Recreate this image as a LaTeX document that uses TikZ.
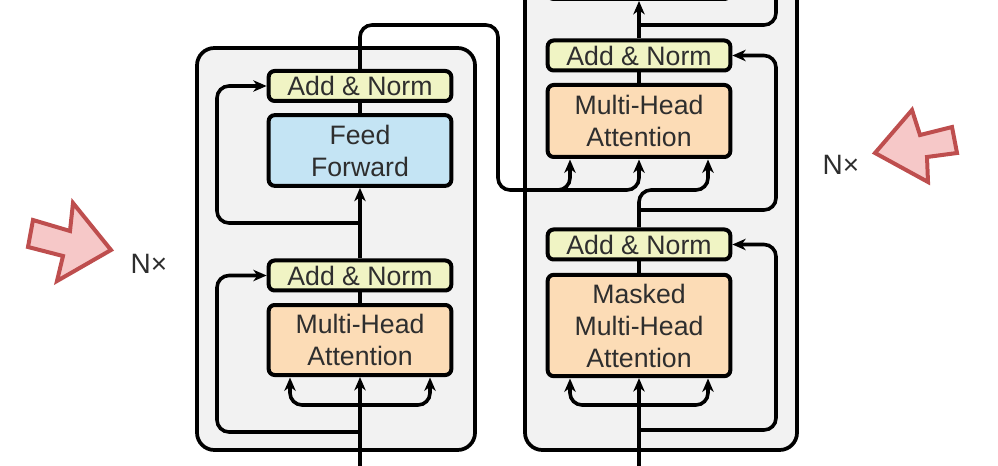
\documentclass[tikz,border=0pt]{standalone}
\usepackage{fontspec}
\newfontfamily\figfont{Liberation Sans}
\usetikzlibrary{arrows.meta}
\definecolor{anfill}{HTML}{F0F4C4}
\definecolor{fffill}{HTML}{C4E4F4}
\definecolor{mhafill}{HTML}{FCDCB6}
\definecolor{blockfill}{HTML}{F2F2F2}
\definecolor{txt}{HTML}{2E2E2E}
\definecolor{redfill}{HTML}{F6C8C8}
\definecolor{redline}{HTML}{BE4E4E}
\tikzset{
  box/.style={draw=black, line width=3pt, rounded corners=4.5pt, minimum width=137pt,
    inner sep=0pt, align=center, text=txt, font=\figfont\fontsize{20}{24}\selectfont},
  anbox/.style={box, fill=anfill, minimum height=22.5pt},
  ffbox/.style={box, fill=fffill, minimum height=53pt},
  mhabox/.style={box, fill=mhafill},
  block/.style={draw=black, line width=2.8pt, fill=blockfill, rounded corners=13pt},
  conn/.style={draw=black, line width=2.7pt, rounded corners=9pt},
  arr/.style={conn, -{Stealth[length=10pt,width=8.5pt,inset=3pt]}},
  bigarrow/.style={draw=redline, fill=redfill, line width=3pt, line join=miter},
  nlabel/.style={text=txt, font=\figfont\fontsize{21}{24}\selectfont, inner sep=0pt}
}
\begin{document}
\begin{tikzpicture}[x=0.75pt,y=-0.75pt]
\useasboundingbox (0,0) rectangle (998,466);
\clip (0,0) rectangle (998,466);
% blocks
\draw[block] (197,48) rectangle (475,450);
\draw[block] (525,-40) rectangle (797,450);
% encoder nodes
\node[mhabox, minimum height=52.5pt] (encMHA) at (360,340) {Multi-Head\\Attention};
\node[anbox] (encAN1) at (360,275.5) {Add \& Norm};
\node[ffbox] (encFF) at (360,150.5) {Feed\\Forward};
\node[anbox] (encAN2) at (360,86) {Add \& Norm};
% decoder nodes
\node[mhabox, minimum height=76pt] (decMMHA) at (639,325.5) {Masked\\Multi-Head\\Attention};
\node[anbox] (decAN1) at (639,244.5) {Add \& Norm};
\node[mhabox, minimum height=54pt] (decMHA) at (639,121) {Multi-Head\\Attention};
\node[anbox] (decAN2) at (639,55.5) {Add \& Norm};
\node[box, fill=fffill, minimum height=30pt, anchor=south] (decTop) at (639,1) {};
% coordinates
\coordinate (encIn) at (360,466);
\coordinate (encBr) at (360,405);
\coordinate (encR1) at (360,432);
\coordinate (encR2) at (360,223);
\coordinate (encUp) at (360,25);
\coordinate (decIn) at (639,466);
\coordinate (decBr) at (639,405);
\coordinate (decR1) at (639,430);
\coordinate (decR2) at (639,210);
\coordinate (decR3) at (639,25);
% encoder connectors
\draw[arr] (encIn) -- (encMHA.south);
\draw[arr] (encBr) -- (290,405) -- (290,377.5);
\draw[arr] (encBr) -- (430,405) -- (430,377.5);
\draw[arr] (encR1) -- (217,432) -- (217,275.5) -- (encAN1.west);
\draw[conn] (encMHA.north) -- (encAN1.south);
\draw[arr] (encAN1.north) -- (encFF.south);
\draw[arr] (encR2) -- (217,223) -- (217,86) -- (encAN2.west);
\draw[conn] (encFF.north) -- (encAN2.south);
% encoder output to decoder
\draw[arr] (encAN2.north) -- (encUp) -- (498,25) -- (498,190) -- (570,190) -- (570,159.5);
\draw[arr] (550,190) -- (639,190) -- (639,159.5);
% decoder connectors
\draw[arr] (decIn) -- (decMMHA.south);
\draw[arr] (decBr) -- (570,405) -- (570,378.5);
\draw[arr] (decBr) -- (708,405) -- (708,378.5);
\draw[arr] (decR1) -- (776,430) -- (776,244.5) -- (decAN1.east);
\draw[conn] (decMMHA.north) -- (decAN1.south);
\draw[arr] (decAN1.north) -- (639,190) -- (708,190) -- (708,159.5);
\draw[arr] (decR2) -- (776,210) -- (776,55.5) -- (decAN2.east);
\draw[conn] (decMHA.north) -- (decAN2.south);
\draw[arr] (decAN2.north) -- (decTop.south);
\draw[conn] (decR3) -- (776,25) -- (776,-20);
% red arrows
\draw[bigarrow] (33,220) -- (70,231) -- (73,203) -- (111,250) -- (57,281) -- (63,256) -- (28,247) -- cycle;
\draw[bigarrow] (875,153) -- (912,110) -- (920,135) -- (952,127) -- (957,153) -- (927,157) -- (928,182) -- cycle;
% labels
\node[nlabel] (nxL) at (149,264) {N×};
\node[nlabel] (nxR) at (841,165) {N×};
\end{tikzpicture}
\end{document}
